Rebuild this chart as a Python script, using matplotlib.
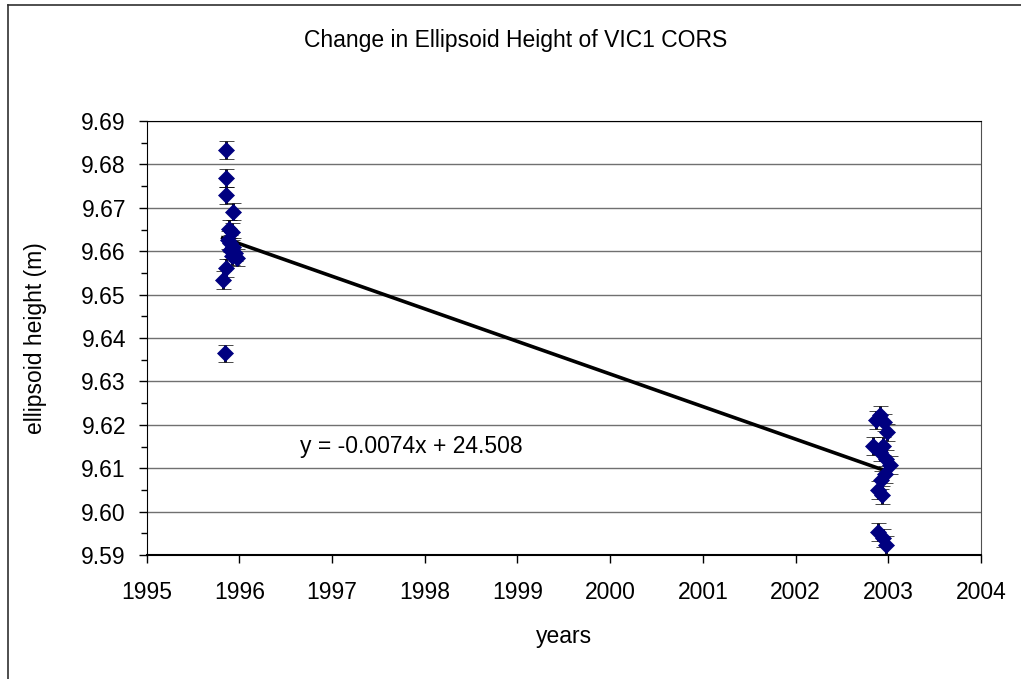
import numpy as np
import matplotlib
matplotlib.use("Agg")
import matplotlib.pyplot as plt
from matplotlib.ticker import MultipleLocator, FormatStrFormatter

plt.rcParams['font.family'] = ['Liberation Sans', 'DejaVu Sans']

years = [1995.85, 1995.86, 1995.86, 1995.93, 1995.89, 1995.92, 1995.88, 1995.90,
         1995.93, 1995.90, 1995.95, 1995.97, 1995.92, 1995.85, 1995.82, 1995.84,
         2002.91, 2002.87, 2002.95, 2002.99, 2002.83, 2002.94, 2002.91, 2002.98,
         2003.02, 2002.96, 2002.92, 2002.89, 2002.93, 2002.89, 2002.94, 2002.98]
heights = [9.6833, 9.6769, 9.6729, 9.6691, 9.6651, 9.6645, 9.6626, 9.6618,
           9.6610, 9.6603, 9.6597, 9.6585, 9.6589, 9.6561, 9.6534, 9.6365,
           9.6223, 9.6211, 9.6206, 9.6183, 9.6151, 9.6151, 9.6137, 9.6121,
           9.6107, 9.6086, 9.6073, 9.6050, 9.6038, 9.5953, 9.5939, 9.5923]
height_err = 0.002

trend_label = "y = -0.0074x + 24.508"
x_ticks = list(range(1995, 2005))

fig = plt.figure(figsize=(10.21, 6.79), dpi=100)
ax = fig.add_axes([0.1437, 0.1826, 0.8171, 0.6392])

# linear trend through the points
coef = np.polyfit(years, heights, 1)
xfit = np.array([min(years), max(years)])
ax.plot(xfit, np.polyval(coef, xfit), color='black', lw=2.6, zorder=2)

ax.errorbar(years, heights, yerr=height_err, fmt='D', color='#000080',
            markersize=8, markeredgewidth=0.5, markeredgecolor='#000080',
            ecolor='black', elinewidth=2.0, capsize=5.4, capthick=2.4, zorder=3)

ax.text(1996.65, 9.6150, trend_label, fontsize=16.5, va='center', ha='left')

ax.set_xlim(1995, 2004)
ax.set_ylim(9.59, 9.69)
ax.set_xticks(x_ticks)
ax.yaxis.set_major_locator(MultipleLocator(0.01))
ax.yaxis.set_minor_locator(MultipleLocator(0.005))
ax.yaxis.set_major_formatter(FormatStrFormatter('%.2f'))
ax.grid(axis='y', color='#707070', lw=1.0)
ax.set_axisbelow(True)

ax.tick_params(axis='both', which='major', labelsize=16.5, direction='out',
               length=6, width=1)
ax.tick_params(axis='x', pad=13)
ax.tick_params(axis='y', pad=9)
ax.tick_params(axis='y', which='minor', length=4, width=1)

for side in ['left', 'bottom', 'top']:
    ax.spines[side].set_color('black')
ax.spines['right'].set_color('#505050')
ax.spines['bottom'].set_linewidth(1.5)

fig.text(0.505, 0.941, "Change in Ellipsoid Height of VIC1 CORS", fontsize=16.5,
         ha='center', va='center')
fig.text(0.552, 0.063, "years", fontsize=16.5, ha='center', va='center')
fig.text(0.035, 0.502, "ellipsoid height (m)", fontsize=16.5, ha='center',
         va='center', rotation=90)

# chart area border (only left and top are inside the picture)
fig.add_artist(plt.Line2D([0.008, 0.008], [0.0, 0.993], transform=fig.transFigure,
                          color='#303030', lw=1.2))
fig.add_artist(plt.Line2D([0.008, 1.0], [0.993, 0.993], transform=fig.transFigure,
                          color='#303030', lw=1.2))

fig.savefig("out.png", dpi=100)
